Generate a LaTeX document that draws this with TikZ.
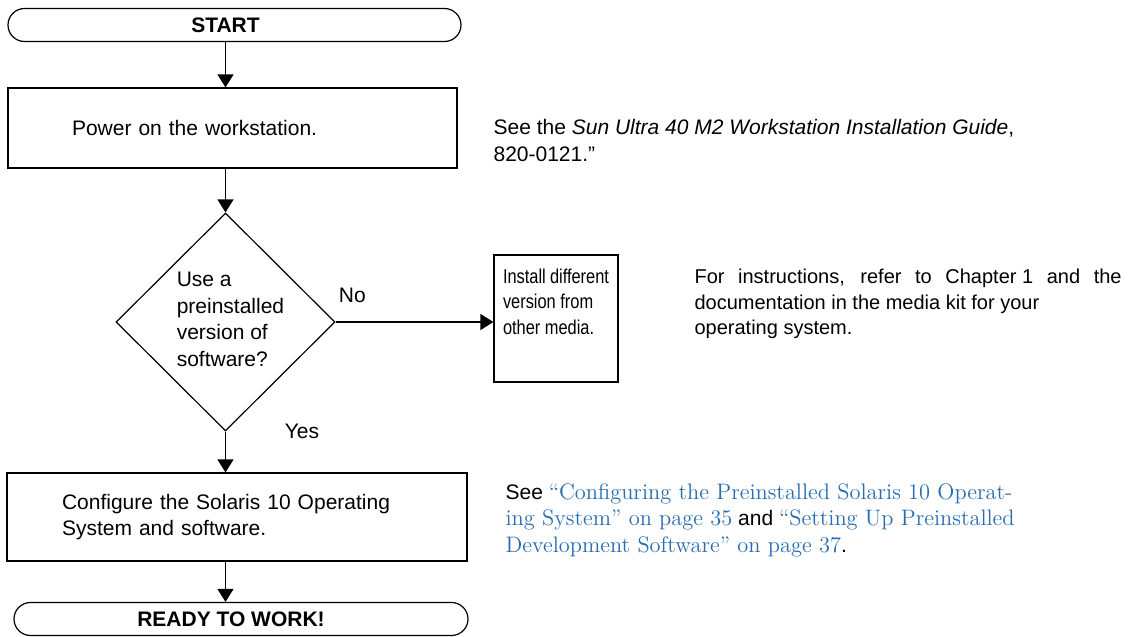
\documentclass[tikz,border=0pt]{standalone}
\usepackage{fontspec}
\setsansfont{Liberation Sans}
\newfontfamily\narrowfont[FakeStretch=0.82]{Liberation Sans}
\usetikzlibrary{shapes.geometric,arrows.meta}
\definecolor{linkblue}{RGB}{38,108,178}
\newcommand{\bodyfont}{\sffamily\fontsize{10.5pt}{13.25pt}\selectfont}
\newcommand{\lnk}[1]{\textcolor{linkblue}{\rmfamily\fontsize{11.2pt}{13pt}\selectfont #1}}
\tikzset{
	term/.style={draw, rounded corners=8.25pt, minimum height=16.5pt, inner sep=0pt, align=center, font=\bodyfont\bfseries},
	stepbox/.style={draw, align=left, inner ysep=0pt, font=\bodyfont},
	decision/.style={draw, diamond, inner sep=0pt, minimum width=109.5pt, minimum height=109pt},
	note/.style={anchor=west, align=left, inner sep=0pt, font=\bodyfont},
	arr/.style={-{Triangle[length=6.5pt,width=8pt]}}
}

\begin{document}
\begin{tikzpicture}[x=0.5pt, y=-0.5pt, line width=0.6pt]
		\useasboundingbox (0,0) rectangle (1131,637);
		\node[term, minimum width=226.5pt] (start) at (234.5,25) {START\hspace{9pt}};
		\node[stepbox, inner xsep=32pt, text width=160.5pt, minimum height=40pt] (power) at (232.5,128) {Power on the workstation.};
		\node[decision, label={[xshift=2.5pt, yshift=1.2pt, align=left, font=\bodyfont]center:Use a\\preinstalled\\version of\\software?}] (dia) at (225.5,322) {};
		\node[draw, inner sep=4.5pt, font=\narrowfont\fontsize{10pt}{12.75pt}\selectfont] (inst) at (556,318.5) {\parbox[c][54.5pt][t]{53pt}{\vspace*{2.5pt}Install different\\version from\\other media.}};
		\node[stepbox, inner xsep=27.5pt, text width=175pt, minimum height=44pt] (config) at (237,517) {Configure the Solaris 10 Operating\\System and software.};
		\node[term, minimum width=227pt] (ready) at (241,619) {READY TO WORK!\hspace{10pt}};

		\node[note] (notepower) at (493,140.5) {See the \textit{Sun Ultra 40 M2 Workstation Installation Guide},\\820-0121.”};
		\node[note, font=\sffamily\fontsize{10pt}{12.9pt}\selectfont] (noteinst) at (694,304) {\makebox[213.5pt][s]{For instructions, refer to \mbox{Chapter 1} and the}\\documentation in the media kit for your\\operating system.};
		\node[note] (noteconfig) at (505,520) {See \lnk{“Configuring the Preinstalled Solaris 10 Operat-}\\\lnk{ing System” on page 35} and \lnk{“Setting Up Preinstalled}\\\lnk{Development Software” on page 37}.};

		\draw[arr] (start.south -| dia) -- (power.north -| dia);
		\draw[arr] (power.south -| dia) -- (dia.north);
		\draw[arr] (dia.east) -- node[pos=0, anchor=south west, xshift=-2pt, yshift=6pt, font=\bodyfont] {No} (dia.east -| inst.west);
		\draw[arr] (dia.south) -- node[pos=0, anchor=west, xshift=26pt, font=\bodyfont] {Yes} (config.north -| dia);
		\draw[arr] (config.south -| dia) -- (ready.north -| dia);
\end{tikzpicture}
\end{document}
